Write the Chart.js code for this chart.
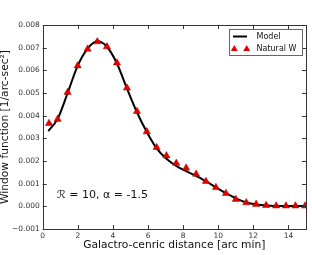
<!DOCTYPE html>
<html>
<head>
<meta charset="utf-8">
<script src="https://cdn.jsdelivr.net/npm/chart.js@4.4.0/dist/chart.umd.min.js"></script>
<style>
html,body{margin:0;padding:0;background:#fff;}
#wrap{width:312px;height:255px;position:relative;}
</style>
</head>
<body>
<div id="wrap"><canvas id="c" width="312" height="255"></canvas></div>
<script>
// Data
const distance = [0.36, 0.85, 1.42, 1.99, 2.56, 3.11, 3.66, 4.23, 4.80, 5.37, 5.93, 6.49, 7.05, 7.61, 8.17, 8.74, 9.30, 9.87, 10.44, 11.00, 11.60, 12.16, 12.73, 13.30, 13.86, 14.40, 14.95];
const naturalW = [0.00366, 0.00384, 0.00503, 0.00620, 0.00694, 0.00726, 0.00704, 0.00633, 0.00522, 0.00419, 0.00329, 0.00260, 0.00223, 0.00190, 0.00169, 0.00142, 0.00110, 0.00083, 0.00057, 0.00031, 0.00016, 0.00009, 0.00004, 0.00002, 0.00002, 0.00002, 0.00002];
const modelX = [0.32, 0.85, 1.42, 1.99, 2.56, 3.11, 3.66, 4.23, 4.80, 5.37, 5.93, 6.49, 7.05, 7.61, 8.17, 8.74, 9.30, 9.87, 10.44, 11.00, 11.60, 12.16, 12.73, 13.30, 13.86, 14.40, 15.0];
const modelY = [0.00332, 0.00386, 0.00500, 0.00620, 0.00696, 0.00728, 0.00704, 0.00630, 0.00520, 0.00415, 0.00328, 0.00256, 0.00210, 0.00178, 0.00155, 0.00134, 0.00110, 0.00084, 0.00058, 0.00035, 0.00017, 0.00008, 0.00004, 0.00002, 0.00001, 0.00001, 0.00001];
const yTicks = [-0.001, 0.000, 0.001, 0.002, 0.003, 0.004, 0.005, 0.006, 0.007, 0.008];
const xTicks = [0, 2, 4, 6, 8, 10, 12, 14];
const seriesNames = ["Model", "Natural W"];
const annotationText = "\u211B = 10, \u03B1 = -1.5";
const xTitle = "Galactro-cenric distance [arc min]";
const yTitle = "Window function [1/arc-sec\u00B2]";

const FONT = "'DejaVu Sans', sans-serif";

const insideTicks = {
  id: 'insideTicks',
  afterDatasetsDraw(chart) {
    const ctx = chart.ctx, a = chart.chartArea;
    const xs = chart.scales.x, ys = chart.scales.y;
    ctx.save();
    ctx.strokeStyle = '#333';
    ctx.lineWidth = 1;
    const L = 4;
    ctx.beginPath();
    xTicks.forEach(v => {
      const px = Math.round(xs.getPixelForValue(v)) + 0.5;
      ctx.moveTo(px, a.bottom); ctx.lineTo(px, a.bottom - L);
      ctx.moveTo(px, a.top); ctx.lineTo(px, a.top + L);
    });
    yTicks.forEach(v => {
      const py = Math.round(ys.getPixelForValue(v)) + 0.5;
      ctx.moveTo(a.left, py); ctx.lineTo(a.left + L, py);
      ctx.moveTo(a.right, py); ctx.lineTo(a.right - L, py);
    });
    ctx.stroke();
    ctx.strokeStyle = '#333';
    ctx.strokeRect(Math.round(a.left) + 0.5, Math.round(a.top) + 0.5, Math.round(a.right - a.left), Math.round(a.bottom - a.top));
    // annotation
    ctx.fillStyle = '#111';
    ctx.font = '11px ' + FONT;
    ctx.textBaseline = 'middle';
    ctx.textAlign = 'left';
    ctx.fillText(annotationText, xs.getPixelForValue(0.82), ys.getPixelForValue(0.0005));
    // legend
    const bx = 229.5, by = 29.5, bw = 73, bh = 26;
    ctx.fillStyle = '#fff';
    ctx.fillRect(bx, by, bw, bh);
    ctx.strokeStyle = '#666';
    ctx.strokeRect(bx, by, bw, bh);
    ctx.font = '8px ' + FONT;
    ctx.fillStyle = '#111';
    ctx.fillText(seriesNames[0], 256.5, 36.5);
    ctx.fillText(seriesNames[1], 256.5, 49);
    ctx.strokeStyle = '#000';
    ctx.lineWidth = 2;
    ctx.beginPath(); ctx.moveTo(233, 36.5); ctx.lineTo(247, 36.5); ctx.stroke();
    ctx.fillStyle = '#e00000';
    [234.3, 246.7].forEach(cx => {
      const r = 4;
      ctx.beginPath();
      ctx.moveTo(cx, 49 - r);
      ctx.lineTo(cx + r * 0.866, 49 + r * 0.5);
      ctx.lineTo(cx - r * 0.866, 49 + r * 0.5);
      ctx.closePath();
      ctx.fill();
    });
    ctx.restore();
  }
};

new Chart(document.getElementById('c'), {
  type: 'scatter',
  data: {
    datasets: [
      {
        label: seriesNames[0],
        data: modelX.map((x, i) => ({x: x, y: modelY[i]})),
        showLine: true,
        borderColor: '#000',
        borderWidth: 2,
        pointRadius: 0,
        tension: 0.4,
        cubicInterpolationMode: 'monotone',
        order: 2
      },
      {
        label: seriesNames[1],
        data: distance.map((x, i) => ({x: x, y: naturalW[i]})),
        showLine: false,
        pointStyle: 'triangle',
        pointRadius: 4.2,
        backgroundColor: '#e00000',
        borderColor: '#b00000',
        borderWidth: 0.5,
        order: 1
      }
    ]
  },
  options: {
    responsive: false,
    animation: false,
    devicePixelRatio: 1,
    layout: {padding: {top: 25, right: 6, left: 0, bottom: 0}},
    plugins: {legend: {display: false}, tooltip: {enabled: false}},
    scales: {
      x: {
        type: 'linear',
        min: 0, max: 15,
        afterFit(s) { s.height = 26; },
        grid: {display: false, drawTicks: false},
        border: {display: false},
        ticks: {
          stepSize: 2, includeBounds: false, padding: 3,
          color: '#333', font: {family: FONT, size: 7.5},
          callback: v => String(v)
        },
        afterBuildTicks(s) { s.ticks = xTicks.map(v => ({value: v})); },
        title: {display: true, text: xTitle, color: '#111', font: {family: FONT, size: 10.7, lineHeight: 1}, padding: {top: 0, bottom: 4}}
      },
      y: {
        type: 'linear',
        min: -0.001, max: 0.008,
        afterFit(s) { s.width = 42.7; },
        grid: {display: false, drawTicks: false},
        border: {display: false},
        afterBuildTicks(s) { s.ticks = yTicks.map(v => ({value: v})); },
        ticks: {
          padding: 3,
          color: '#333', font: {family: FONT, size: 7.5},
          callback: v => { if (Math.abs(v) < 1e-9) return '0.000'; const s = Math.abs(v).toFixed(3); return v < 0 ? '\u2212' + s : s; }
        },
        title: {display: true, text: yTitle, color: '#111', font: {family: FONT, size: 10.7, lineHeight: 1}, padding: {top: 0, bottom: 0}}
      }
    }
  },
  plugins: [insideTicks, {id: 'bg', beforeDraw(c) { const ctx = c.ctx; ctx.save(); ctx.fillStyle = '#fff'; ctx.fillRect(0, 0, c.width, c.height); ctx.restore(); }}]
});
</script>
</body>
</html>
